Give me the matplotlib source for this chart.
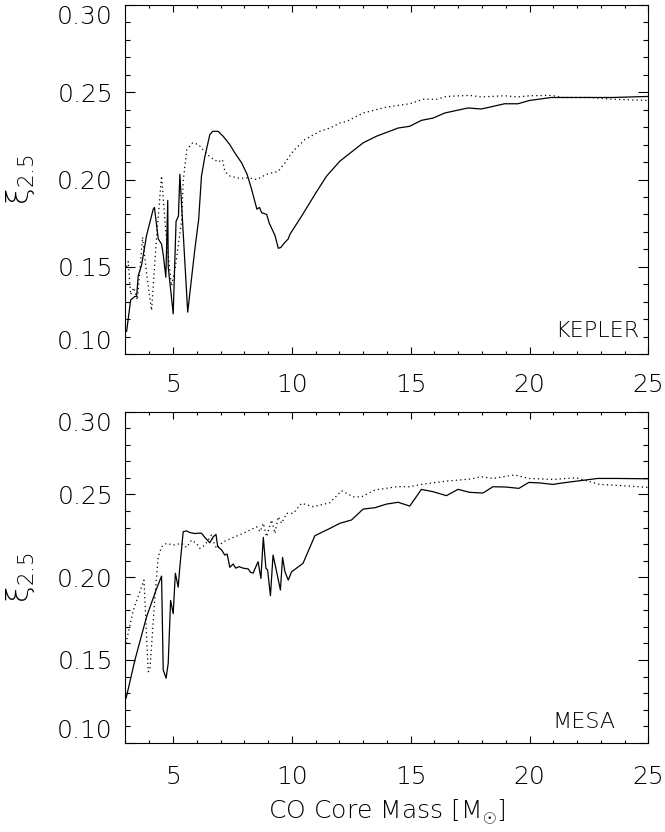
import matplotlib
matplotlib.use("Agg")
import matplotlib.pyplot as plt
from matplotlib.ticker import MultipleLocator

plt.rcParams.update({
    "font.family": "DejaVu Sans", "font.weight": "light",
    "mathtext.fontset": "custom",
    "mathtext.rm": "DejaVu Sans:light",
    "mathtext.it": "DejaVu Sans:light",
    "mathtext.sf": "DejaVu Sans:light",
})

# KEPLER (top panel)
kep_solid_m = [3.05, 3.22, 3.40, 3.47, 3.54, 3.68, 3.89, 4.17, 4.22, 4.38, 4.52, 4.59, 4.70,
               4.78, 4.80, 5.01, 5.13, 5.23, 5.29, 5.62, 5.92, 6.08, 6.20, 6.34, 6.55, 6.67,
               6.90, 7.11, 7.39, 7.60, 7.89, 8.12, 8.31, 8.44, 8.53, 8.64, 8.73, 8.94, 9.05,
               9.29, 9.43, 9.53, 9.71, 9.85, 9.92, 10.41, 11.04, 11.46, 12.02, 13.0, 13.56,
               14.47, 14.96, 15.45, 15.94, 16.43, 17.41, 17.97, 18.95, 19.51, 20.0, 20.91,
               21.96, 23.5, 25.0]
kep_solid_xi = [0.113, 0.131, 0.133, 0.133, 0.145, 0.151, 0.168, 0.183, 0.184, 0.166, 0.163,
                0.157, 0.144, 0.188, 0.150, 0.123, 0.176, 0.179, 0.203, 0.124, 0.160, 0.177,
                0.202, 0.213, 0.2257, 0.2276, 0.2276, 0.2248, 0.220, 0.2153, 0.2095, 0.2029,
                0.1943, 0.1876, 0.183, 0.184, 0.181, 0.180, 0.175, 0.168, 0.1606, 0.161,
                0.164, 0.166, 0.1686, 0.179, 0.193, 0.2019, 0.2105, 0.221, 0.2248, 0.2295,
                0.2305, 0.2339, 0.2352, 0.2381, 0.241, 0.2404, 0.2434, 0.2434, 0.2453, 0.247,
                0.247, 0.247, 0.2476]
kep_dot_m = [3.05, 3.12, 3.22, 3.35, 3.50, 3.62, 3.72, 3.90, 4.10, 4.30, 4.52, 4.70, 4.94,
             5.10, 5.37, 5.43, 5.58, 5.83, 6.08, 6.27, 6.55, 6.90, 7.08, 7.18, 7.39, 7.82,
             8.17, 8.52, 8.94, 9.43, 9.71, 10.05, 10.55, 11.18, 11.60, 12.02, 12.30, 13.0,
             13.98, 14.96, 15.52, 16.08, 16.5, 17.48, 17.97, 18.95, 19.51, 20.0, 20.91, 21.4,
             22.52, 23.5, 24.97]
kep_dot_xi = [0.150, 0.153, 0.134, 0.138, 0.131, 0.150, 0.167, 0.145, 0.125, 0.165, 0.202,
              0.170, 0.139, 0.150, 0.177, 0.199, 0.217, 0.221, 0.220, 0.217, 0.213, 0.210,
              0.2114, 0.2048, 0.202, 0.2006, 0.201, 0.200, 0.203, 0.2047, 0.2095, 0.2162,
              0.2229, 0.2276, 0.2295, 0.2324, 0.2333, 0.2381, 0.2415, 0.2434, 0.246, 0.246,
              0.2476, 0.2482, 0.2473, 0.248, 0.2473, 0.248, 0.2482, 0.247, 0.247, 0.246, 0.2453]

# MESA (bottom panel)
mesa_solid_m = [3.03, 3.40, 3.89, 4.29, 4.52, 4.59, 4.71, 4.80, 4.90, 5.01, 5.10, 5.22, 5.29,
                5.43, 5.57, 5.71, 5.92, 6.06, 6.20, 6.34, 6.55, 6.69, 6.81, 6.88, 7.05, 7.18,
                7.28, 7.39, 7.53, 7.64, 7.78, 7.95, 8.17, 8.26, 8.37, 8.58, 8.70, 8.80, 8.91,
                8.98, 9.10, 9.21, 9.36, 9.52, 9.61, 9.71, 9.85, 9.99, 10.47, 10.97, 11.6,
                12.02, 12.51, 13.0, 13.49, 13.98, 14.47, 14.96, 15.45, 15.94, 16.5, 16.99,
                17.48, 18.04, 18.46, 19.02, 19.55, 19.97, 20.42, 20.98, 21.4, 22.1, 22.87,
                23.64, 24.97]
mesa_solid_xi = [0.127, 0.150, 0.1761, 0.1923, 0.2007, 0.144, 0.139, 0.148, 0.186, 0.178,
                 0.2024, 0.194, 0.2063, 0.2275, 0.228, 0.227, 0.2264, 0.2266, 0.2266, 0.2241,
                 0.2208, 0.2244, 0.2259, 0.2186, 0.2164, 0.2134, 0.214, 0.206, 0.208, 0.2055,
                 0.2064, 0.2055, 0.205, 0.203, 0.2025, 0.2094, 0.1993, 0.2241, 0.2054, 0.2044,
                 0.1888, 0.2134, 0.2033, 0.1923, 0.212, 0.2033, 0.1983, 0.2033, 0.2084, 0.2251,
                 0.2295, 0.2326, 0.2346, 0.2412, 0.242, 0.2442, 0.2453, 0.243, 0.2531, 0.2517,
                 0.2493, 0.2531, 0.2513, 0.2509, 0.2547, 0.2545, 0.2537, 0.2573, 0.257, 0.2561,
                 0.257, 0.2583, 0.2597, 0.2597, 0.2595]
mesa_dot_m = [3.02, 3.33, 3.78, 3.96, 4.03, 4.24, 4.38, 4.52, 4.73, 5.01, 5.36, 5.57, 5.78,
              5.99, 6.13, 6.34, 6.62, 6.71, 6.83, 7.11, 7.53, 7.95, 8.24, 8.52, 8.66, 8.80,
              8.94, 9.15, 9.29, 9.43, 9.57, 9.78, 10.06, 10.41, 10.90, 11.6, 12.09, 12.58,
              12.93, 13.49, 14.40, 14.96, 15.52, 16.5, 17.48, 17.97, 18.46, 19.37, 19.97,
              20.98, 21.96, 22.94, 24.2, 24.97]
mesa_dot_xi = [0.160, 0.180, 0.1983, 0.1429, 0.144, 0.188, 0.2124, 0.2184, 0.2205, 0.2194,
               0.2205, 0.218, 0.2224, 0.2205, 0.2174, 0.2194, 0.2255, 0.2214, 0.2174, 0.2214,
               0.224, 0.2265, 0.2285, 0.2305, 0.2275, 0.2326, 0.2245, 0.2346, 0.2265, 0.2366,
               0.2326, 0.2386, 0.2386, 0.2447, 0.2426, 0.245, 0.2523, 0.2486, 0.2486, 0.2527,
               0.2547, 0.2547, 0.2563, 0.2581, 0.2593, 0.2607, 0.2597, 0.2618, 0.2597, 0.2591,
               0.2601, 0.2561, 0.2551, 0.2543]

X_TICKS = [5, 10, 15, 20, 25]
Y_TICKS = [0.10, 0.15, 0.20, 0.25, 0.30]
Y_LABELS = ["0.10", "0.15", "0.20", "0.25", "0.30"]


def _style_axis(ax, xpad):
    ax.set_xlim(3, 25)
    ax.set_ylim(0.10, 0.30)
    ax.set_xticks(X_TICKS)
    ax.set_xticklabels([str(t) for t in X_TICKS])
    ax.set_yticks(Y_TICKS)
    ax.set_yticklabels(Y_LABELS)
    ax.xaxis.set_minor_locator(MultipleLocator(1))
    ax.yaxis.set_minor_locator(MultipleLocator(0.01))
    ax.tick_params(which="both", direction="in", top=True, right=True, width=0.8, labelsize=18)
    ax.tick_params(axis="x", which="major", length=5, pad=xpad)
    ax.tick_params(axis="x", which="minor", length=2.5)
    ax.tick_params(axis="y", which="major", length=7.5, pad=9)
    ax.tick_params(axis="y", which="minor", length=3.6)
    for s in ax.spines.values():
        s.set_linewidth(0.8)
    yt = ax.yaxis.get_major_ticks()
    yt[0].label1.set_va("bottom")
    yt[-1].label1.set_va("top")
    ax.text(-0.2, 0.5, r"$\xi_{2.5}$", transform=ax.transAxes, rotation=90,
            ha="center", va="center", fontsize=22)


fig = plt.figure(figsize=(6.65, 8.32), dpi=100)
ax1 = fig.add_axes([0.1886, 0.5745, 0.7865, 0.4195])
ax2 = fig.add_axes([0.1886, 0.1073, 0.7865, 0.3978])

ax1.plot(kep_solid_m, kep_solid_xi, color="black", lw=0.9)
ax1.plot(kep_dot_m, kep_dot_xi, color="black", lw=0.9, linestyle=(0, (1, 2.5)))
_style_axis(ax1, 14)
ax1.text(0.902, 0.05, "KEPLER", transform=ax1.transAxes, ha="center", va="baseline", fontsize=16)

ax2.plot(mesa_solid_m, mesa_solid_xi, color="black", lw=0.9)
ax2.plot(mesa_dot_m, mesa_dot_xi, color="black", lw=0.9, linestyle=(0, (1, 2.5)))
_style_axis(ax2, 16)
ax2.text(0.877, 0.044, "MESA", transform=ax2.transAxes, ha="center", va="baseline", fontsize=16)
ax2.set_xlabel(r"$\mathrm{CO\ Core\ Mass\ [M}_{\odot}\mathrm{]}$", fontsize=18, labelpad=6)

fig.savefig("out.png", dpi=100)
